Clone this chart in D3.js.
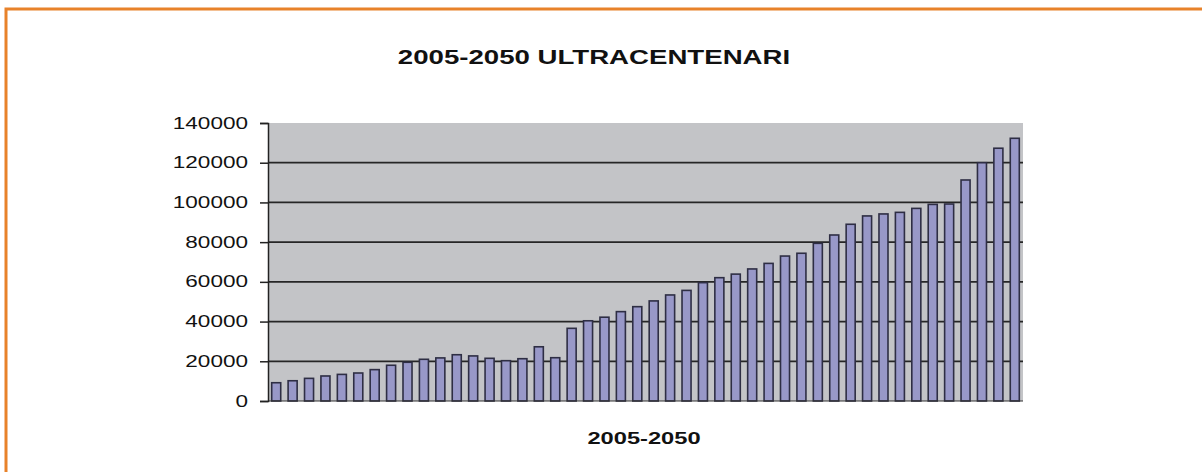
<!DOCTYPE html>
<html>
<head>
<meta charset="utf-8">
<script src="https://cdn.jsdelivr.net/npm/d3@7/dist/d3.min.js"></script>
<style>
  html, body { margin: 0; padding: 0; background: #fff; }
  svg { display: block; }
  text { font-family: "Liberation Sans", Arial, sans-serif; fill: #111; }
</style>
</head>
<body>
<svg id="chart" width="1202" height="472"></svg>
<script>
// Ultracentenarians per year, 2005-2050
const years = d3.range(2005, 2051).map(String);
const values = [
  9200, 10200, 11400, 12600, 13400, 14100, 15800, 18000, 19500, 21000,
  21700, 23300, 22700, 21500, 20300, 21300, 27300, 21800, 36600, 40400,
  42200, 45000, 47500, 50400, 53400, 55700, 59600, 62100, 63900, 66500,
  69300, 73000, 74400, 79400, 83600, 89000, 93200, 94200, 95000, 97000,
  99000, 99200, 111300, 120000, 127300, 132300
];
const yTicks = [0, 20000, 40000, 60000, 80000, 100000, 120000, 140000];
const titleText = "2005-2050 ULTRACENTENARI";
const xTitleText = "2005-2050";

const svg = d3.select("#chart");
const sx = 1.41; // horizontal stretch of lettering

// orange frame (top and left edges)
svg.append("rect").attr("x", 6).attr("y", 9).attr("width", 1202).attr("height", 480)
  .attr("fill", "none").attr("stroke", "#e8822a").attr("stroke-width", 3);

const plot = { left: 268, right: 1023, top: 123, bottom: 401 };

const x = d3.scaleBand().domain(years)
  .range([plot.left, plot.right]).paddingInner(0.45).paddingOuter(0.225);
const y = d3.scaleLinear().domain([0, 140000]).range([plot.bottom, plot.top]);

// plot background
svg.append("rect").attr("x", plot.left).attr("y", plot.top)
  .attr("width", plot.right - plot.left).attr("height", plot.bottom - plot.top)
  .attr("fill", "#c3c4c7");

// gridlines
svg.append("g").selectAll("line").data(yTicks.filter(t => t > 0 && t < 140000)).join("line")
  .attr("x1", plot.left).attr("x2", plot.right)
  .attr("y1", d => y(d)).attr("y2", d => y(d))
  .attr("stroke", "#262626").attr("stroke-width", 1.8);

// bars
svg.append("g").selectAll("rect").data(values).join("rect")
  .attr("x", (d, i) => x(years[i]))
  .attr("y", d => y(d))
  .attr("width", x.bandwidth())
  .attr("height", d => y(0) - y(d))
  .attr("fill", "#9898c8")
  .attr("stroke", "#2e2e44").attr("stroke-width", 1.6);

// x axis line
svg.append("line").attr("x1", plot.left).attr("x2", plot.right)
  .attr("y1", plot.bottom).attr("y2", plot.bottom)
  .attr("stroke", "#333").attr("stroke-width", 1);

// y axis
const yAxis = svg.append("g").attr("transform", `translate(${plot.left},0)`)
  .call(d3.axisLeft(y).tickValues(yTicks).tickFormat(d3.format("d")).tickSize(8).tickPadding(12));
yAxis.select(".domain").attr("stroke", "#222").attr("stroke-width", 1.5);
yAxis.selectAll(".tick line").attr("stroke", "#222").attr("stroke-width", 1.5);
yAxis.selectAll(".tick text")
  .style("font-family", '"Liberation Sans", Arial, sans-serif')
  .attr("font-size", 16).attr("fill", "#1a1a1a")
  .attr("x", -20 / sx)
  .attr("transform", `scale(${sx},1)`);

// stretched text helper
function label(txt, cx, cy, size, weight) {
  svg.append("text")
    .attr("x", cx / sx).attr("y", cy)
    .attr("transform", `scale(${sx},1)`)
    .attr("text-anchor", "middle")
    .attr("font-size", size).attr("font-weight", weight)
    .text(txt);
}

label(titleText, 594, 64, 19.6, "bold");
label(xTitleText, 644, 444, 16.8, "bold");
</script>
</body>
</html>
